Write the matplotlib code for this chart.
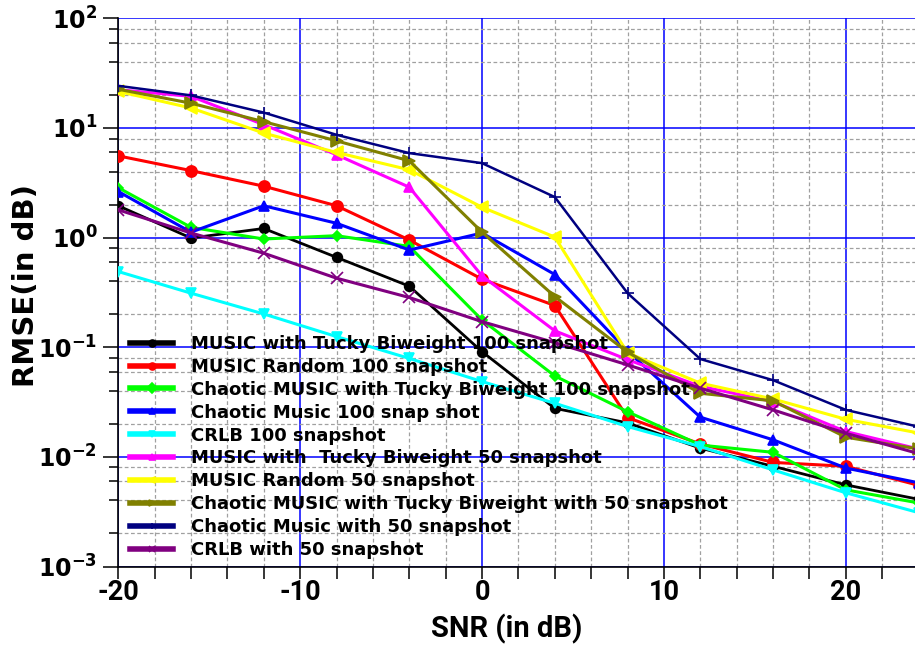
import numpy as np
import matplotlib
matplotlib.use('Agg')
import matplotlib.pyplot as plt
from matplotlib.ticker import FixedLocator, FixedFormatter, NullFormatter

snr = [-20, -16, -12, -8, -4, 0, 4, 8, 12, 16, 20, 24]

music_tb_100 = [1.95, 0.99, 1.21, 0.66, 0.36, 0.091, 0.0277, 0.0204, 0.0120, 0.0082, 0.00555, 0.0041]
music_rand_100 = [5.56, 4.08, 2.94, 1.95, 0.95, 0.417, 0.24, 0.0228, 0.0131, 0.0089, 0.0082, 0.0055]
chaotic_tb_100 = [2.85, 1.24, 0.97, 1.04, 0.83, 0.177, 0.0547, 0.0258, 0.0128, 0.0110, 0.0050, 0.0038]
chaotic_100 = [2.63, 1.12, 1.95, 1.35, 0.77, 1.10, 0.46, 0.092, 0.023, 0.0143, 0.0079, 0.0058]
crlb_100 = [0.49, 0.311, 0.201, 0.125, 0.079, 0.0486, 0.0308, 0.0189, 0.0124, 0.0076, 0.0047, 0.0031]
music_tb_50 = [22.3, 19.4, 10.7, 5.69, 2.88, 0.447, 0.141, 0.077, 0.044, 0.0319, 0.017, 0.0118]
music_rand_50 = [21.5, 15.2, 8.97, 5.97, 4.15, 1.89, 1.01, 0.0887, 0.047, 0.0337, 0.022, 0.0165]
chaotic_tb_50 = [22.5, 16.8, 11.4, 7.62, 5.01, 1.12, 0.29, 0.090, 0.038, 0.0324, 0.0151, 0.0118]
chaotic_50 = [24.2, 19.8, 13.8, 8.65, 5.89, 4.77, 2.34, 0.311, 0.078, 0.050, 0.0268, 0.0188]
crlb_50 = [1.79, 1.10, 0.72, 0.426, 0.284, 0.171, 0.110, 0.069, 0.0423, 0.0268, 0.0164, 0.0107]

labels = ['MUSIC with Tucky Biweight 100 snapshot',
          'MUSIC Random 100 snapshot',
          'Chaotic MUSIC with Tucky Biweight 100 snapshot',
          'Chaotic Music 100 snap shot',
          'CRLB 100 snapshot',
          'MUSIC with  Tucky Biweight 50 snapshot',
          'MUSIC Random 50 snapshot',
          'Chaotic MUSIC with Tucky Biweight with 50 snapshot',
          'Chaotic Music with 50 snapshot',
          'CRLB with 50 snapshot']

xtick_vals = [-20, -10, 0, 10, 20]
xtick_labels = ['-20', '-10', '0', '10', '20']
ytick_vals = [1e-3, 1e-2, 1e-1, 1e0, 1e1, 1e2]
ytick_labels = [r'$\mathbf{10^{-3}}$', r'$\mathbf{10^{-2}}$', r'$\mathbf{10^{-1}}$',
                r'$\mathbf{10^{0}}$', r'$\mathbf{10^{1}}$', r'$\mathbf{10^{2}}$']

series = [music_tb_100, music_rand_100, chaotic_tb_100, chaotic_100, crlb_100,
          music_tb_50, music_rand_50, chaotic_tb_50, chaotic_50, crlb_50]
colours = ['black', '#ff0000', '#00ff00', '#0000ff', '#00ffff',
           '#ff00ff', '#ffff00', '#808000', '#000080', '#800080']
markers = ['o', 'o', 'D', '^', 'v', '^', '<', '>', '+', 'x']
msizes = [7, 8, 5, 7, 7, 7, 8, 8, 9, 8]
lwidths = [2.0, 2.2, 2.2, 2.2, 2.2, 2.2, 2.2, 2.2, 1.8, 2.2]

plt.rcParams['mathtext.fontset'] = 'dejavusans'
plt.rcParams['axes.unicode_minus'] = False

fig = plt.figure(figsize=(9.15, 6.45), dpi=100)
ax = fig.add_axes([0.1292, 0.1217, 0.8708, 0.8500])

for s, c, m, ms, lw, lab in zip(series, colours, markers, msizes, lwidths, labels):
    ax.plot(snr, s, color=c, marker=m, markersize=ms, linewidth=lw, label=lab,
            markeredgewidth=1.2, zorder=3)

ax.set_yscale('log')
ax.set_xlim(-20, 23.8)
ax.set_ylim(1e-3, 1e2)

# ticks
ax.xaxis.set_major_locator(FixedLocator(xtick_vals))
ax.xaxis.set_major_formatter(FixedFormatter(xtick_labels))
ax.xaxis.set_minor_locator(FixedLocator(np.arange(-18, 24, 2)))
ax.yaxis.set_major_locator(FixedLocator(ytick_vals))
ax.yaxis.set_major_formatter(FixedFormatter(ytick_labels))
minor_y = [m * 10.0 ** e for e in range(-3, 2) for m in (2, 4, 6, 8)]
ax.yaxis.set_minor_locator(FixedLocator(minor_y))
ax.yaxis.set_minor_formatter(NullFormatter())

ax.tick_params(axis='y', which='major', direction='out', length=11, width=1.1, labelsize=17, pad=4)
ax.tick_params(axis='y', which='minor', direction='out', length=6.5, width=1.1)
ax.tick_params(axis='x', which='both', direction='out', length=8.5, width=1.1, pad=0.5)
for t in ax.get_xticklabels():
    t.set_fontfamily(['Roboto', 'DejaVu Sans'])
    t.set_fontweight('bold')
    t.set_fontsize(19.5)

# grids
ax.grid(which='major', color='#0000ff', linestyle='-', linewidth=1.1, zorder=1)
ax.grid(which='minor', color='#a0a0a0', linestyle=(0, (3, 2)), linewidth=0.9, zorder=1)
ax.set_axisbelow(True)

for sp in ['top', 'right']:
    ax.spines[sp].set_visible(False)
for sp in ['left', 'bottom']:
    ax.spines[sp].set_linewidth(1.2)

ax.set_xlabel('SNR (in dB)', fontsize=21, fontweight='bold',
              family=['Roboto', 'DejaVu Sans'], va='bottom')
ax.xaxis.set_label_coords(0.488, -0.1405)
ax.set_ylabel('RMSE(in dB)', fontsize=21, fontweight='bold', va='center')
ax.yaxis.set_label_coords(-0.1157, 0.512)

leg = ax.legend(loc='lower left', bbox_to_anchor=(0.0054, 0.0), borderaxespad=0,
                prop={'weight': 'bold', 'size': 13}, frameon=True, fancybox=False,
                framealpha=0, edgecolor='black', handlelength=2.4, handletextpad=1.0,
                labelspacing=0.27, borderpad=0.42)
leg.get_frame().set_linewidth(1.0)
for l in leg.get_lines():
    l.set_linewidth(4)
    l.set_markersize(5)

plt.savefig('out.png', dpi=100)
